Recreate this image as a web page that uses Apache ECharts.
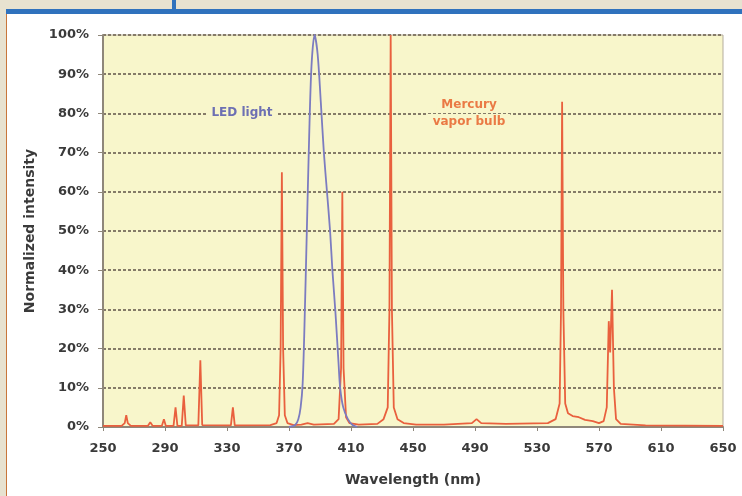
<!DOCTYPE html>
<html>
<head>
<meta charset="utf-8">
<script src="https://cdn.jsdelivr.net/npm/echarts@6/dist/echarts.min.js"></script>
<style>
  html, body { margin: 0; padding: 0; background: #e7e2d0; }
  #wrap { position: relative; width: 742px; height: 496px; overflow: hidden; }
  .blueBar { position: absolute; left: 6px; top: 9px; width: 736px; height: 5px; background: #2f72bd; }
  .blueTick { position: absolute; left: 172px; top: 0; width: 4px; height: 9px; background: #2f72bd; }
  .panel { position: absolute; left: 6px; top: 14px; width: 735px; height: 482px; background: #fff; border-left: 1px solid #c8763a; }
  #chart { position: absolute; left: 0; top: 0; width: 742px; height: 496px; }
</style>
</head>
<body>
<div id="wrap">
  <div class="blueTick"></div>
  <div class="blueBar"></div>
  <div class="panel"></div>
  <div id="chart"></div>
</div>
<script>
// wavelength range and ticks
const xMin = 250, xMax = 650, xStep = 40;
const yTicks = [0, 10, 20, 30, 40, 50, 60, 70, 80, 90, 100];

// mercury vapor bulb spectrum, [nm, % intensity]
const mercury = [
  [250, 0.3], [262, 0.3], [264, 1], [265, 3], [266, 1], [268, 0.3],
  [279, 0.3], [280.5, 1.2], [282, 0.3], [288, 0.3], [289.3, 2], [290.5, 0.3],
  [295.5, 0.3], [296.8, 5], [298, 0.3], [300.8, 0.3], [302.1, 8], [303.4, 0.4],
  [311.5, 0.4], [312.8, 17], [314, 0.5], [332.5, 0.4], [333.8, 5], [335, 0.4],
  [358, 0.5], [362, 1], [363.6, 3], [364.6, 20], [365.4, 65], [366.2, 20], [367.3, 3],
  [369, 1], [373, 0.5], [378, 0.6], [382, 1], [386, 0.6], [399, 0.8], [402, 2],
  [403.6, 15], [404.4, 60], [405.2, 15], [406.8, 2.5], [409, 1], [415, 0.6],
  [427, 0.8], [431, 2], [433.7, 5], [434.8, 30], [435.6, 100], [436.4, 30], [437.6, 5],
  [440, 2], [444, 1], [452, 0.6], [470, 0.6], [488, 1], [491, 2], [494, 1],
  [510, 0.8], [537, 1], [542, 2], [544.6, 6], [545.5, 30], [546.2, 83], [547, 30],
  [548.2, 6], [550, 3.5], [553, 2.8], [557, 2.5], [561, 1.8], [566, 1.5], [570, 1],
  [573, 1.5], [575, 5], [576.3, 27], [577.2, 19], [578.4, 35], [579.6, 10], [581, 2],
  [584, 0.8], [600, 0.4], [650, 0.3]
];

// LED light spectrum, [nm, % intensity]
const led = [
  [370, 0], [374, 0.5], [376, 2], [377.5, 5], [378.8, 11], [380, 26], [381.5, 50],
  [383, 74], [384.5, 92], [386.5, 100], [388.5, 95], [390.5, 83], [392.5, 70],
  [394.5, 60], [396.5, 50], [398, 40], [400, 29], [402, 16], [403, 10], [405, 5],
  [408, 2], [411, 0.5], [414, 0]
];

const labelFont = 'DejaVu Sans';
const plotBg = '#f8f6cb';

const chart = echarts.init(document.getElementById('chart'));
chart.setOption({
  backgroundColor: 'transparent',
  animation: false,
  grid: {
    left: 103, right: 19, top: 35, bottom: 69,
    show: true,
    backgroundColor: plotBg,
    borderColor: '#b5ad9e',
    borderWidth: 1
  },
  xAxis: {
    type: 'value',
    min: xMin, max: xMax, interval: xStep,
    name: 'Wavelength (nm)',
    nameLocation: 'middle',
    nameGap: 46,
    nameTextStyle: { fontFamily: labelFont, fontWeight: 'bold', fontSize: 14, color: '#3a3a3a' },
    axisLine: { lineStyle: { color: '#8f877a', width: 2 } },
    axisTick: { show: true, length: 4, lineStyle: { color: '#8f877a' } },
    axisLabel: {
      fontFamily: labelFont, fontWeight: 'bold', fontSize: 13, color: '#3a3a3a',
      margin: 15, showMaxLabel: true
    },
    splitLine: { show: false }
  },
  yAxis: {
    type: 'value',
    min: yTicks[0], max: yTicks[yTicks.length - 1], interval: 10,
    name: 'Normalized intensity',
    nameLocation: 'middle',
    nameGap: 66,
    nameTextStyle: { fontFamily: labelFont, fontWeight: 'bold', fontSize: 14, color: '#3a3a3a' },
    axisLine: { show: true, lineStyle: { color: '#8f877a', width: 2 } },
    axisTick: { show: true, length: 5, lineStyle: { color: '#8f877a' } },
    axisLabel: {
      fontFamily: labelFont, fontWeight: 'bold', fontSize: 13, color: '#3a3a3a',
      margin: 14, formatter: '{value}%'
    },
    splitLine: { show: true, lineStyle: { color: '#857b68', width: 2, type: [3, 2] } }
  },
  graphic: [
    {
      type: 'text', x: 242, y: 113, z: 50,
      style: {
        text: 'LED light', fill: '#6d70b3', backgroundColor: plotBg,
        padding: [3, 4], align: 'center', verticalAlign: 'middle',
        font: 'bold 12px "DejaVu Sans"'
      }
    },
    {
      type: 'text', x: 469, y: 105, z: 50,
      style: {
        text: 'Mercury', fill: '#ea7a45', backgroundColor: plotBg,
        padding: [2, 5], align: 'center', verticalAlign: 'middle',
        font: 'bold 12px "DejaVu Sans"'
      }
    },
    {
      type: 'text', x: 469, y: 122, z: 50,
      style: {
        text: 'vapor bulb', fill: '#ea7a45', backgroundColor: plotBg,
        padding: [2, 5], align: 'center', verticalAlign: 'middle',
        font: 'bold 12px "DejaVu Sans"'
      }
    }
  ],
  series: [
    {
      name: 'Mercury vapor bulb',
      type: 'line',
      data: mercury,
      showSymbol: false,
      lineStyle: { color: '#e9603e', width: 1.8 },
      z: 3
    },
    {
      name: 'LED light',
      type: 'line',
      data: led,
      smooth: 0.3,
      showSymbol: false,
      lineStyle: { color: '#7c7cc0', width: 1.8 },
      z: 4
    }
  ]
});
</script>
</body>
</html>
